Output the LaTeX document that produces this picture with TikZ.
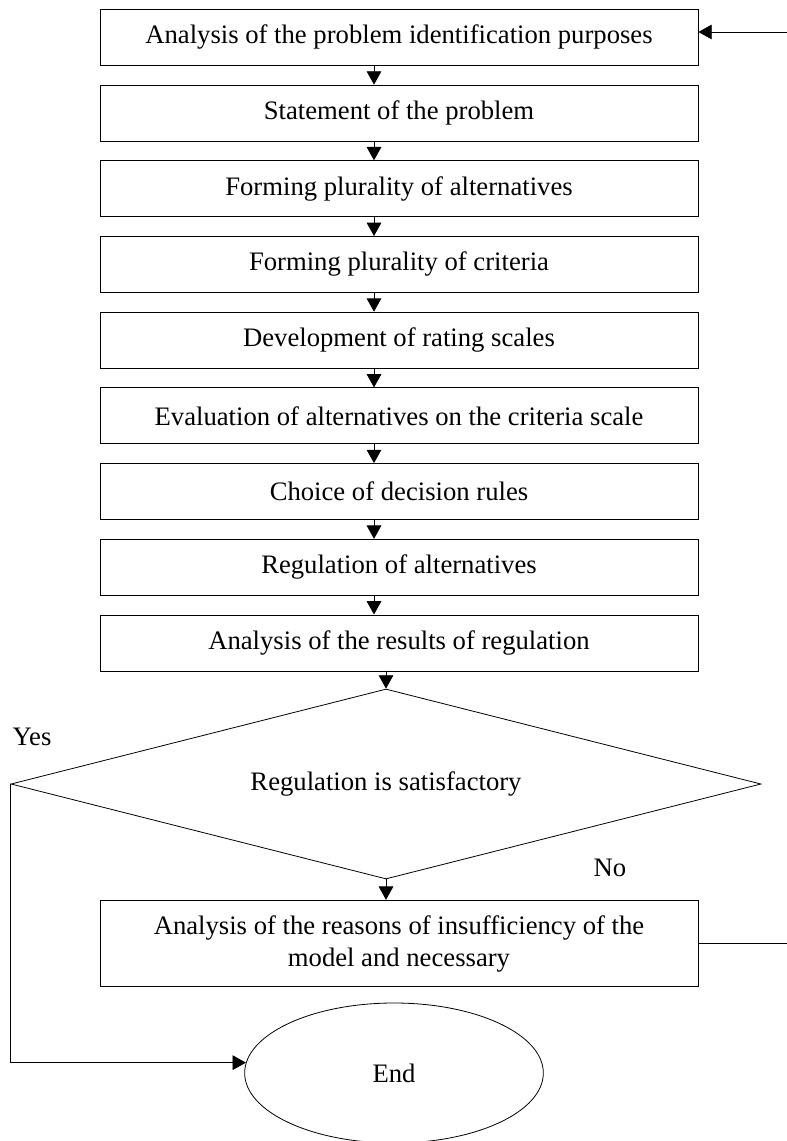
\documentclass[tikz,border=0pt]{standalone}
\usepackage{fontspec}
\setmainfont{Liberation Serif}
\usetikzlibrary{shapes.geometric}
\usetikzlibrary{arrows.meta}

\begin{document}
\begin{tikzpicture}[x=0.75pt, y=-0.75pt, line cap = round, line join = miter, >={Triangle[length=10pt,width=11pt]}]
\tikzstyle{stage}=[rectangle, draw=black, line width=0.6pt, minimum width=448.5pt, minimum height=42pt, inner sep=0pt, font=\fontsize{20}{24}\selectfont]
\tikzstyle{test}=[diamond, draw=black, line width=0.6pt, aspect=4, inner sep=0pt, minimum width=562.5pt, minimum height=142.5pt, font=\fontsize{20}{24}\selectfont]
\tikzstyle{term}=[ellipse, draw=black, line width=0.6pt, inner sep=0pt, minimum width=224pt, minimum height=105pt, font=\fontsize{20}{24}\selectfont]
\tikzstyle{flow}=[line width=0.6pt, ->]
\useasboundingbox (0,0) rectangle (787,1141);

\node[stage] (analysis) at (399, 37.3) {Analysis of the problem identification purposes};
\node[stage] (statement) at (399, 113) {Statement of the problem};
\node[stage] (alts) at (399, 188.7) {Forming plurality of alternatives};
\node[stage] (crit) at (399, 264.4) {Forming plurality of criteria};
\node[stage] (scales) at (399, 340.1) {Development of rating scales};
\node[stage] (evaluation) at (399, 415.8) {Evaluation of alternatives on the criteria scale};
\node[stage] (rules) at (399, 491.5) {Choice of decision rules};
\node[stage] (regulation) at (399, 567.2) {Regulation of alternatives};
\node[stage] (results) at (399, 642.9) {Analysis of the results of regulation};
\node[test] (satisf) at (386, 784) {Regulation is satisfactory};
\node[stage, minimum height=65pt, align=center] (reasons) at (399, 943.5) {Analysis of the reasons of insufficiency of the\\model and necessary};
\node[term] (finish) at (394, 1073) {End};

\node[font=\fontsize{20}{24}\selectfont] (yes) at (32, 737) {Yes};
\node[font=\fontsize{20}{24}\selectfont] (no) at (610, 868) {No};

\coordinate (backin) at (787, 32);
\coordinate (backout) at (787, 943.5);

% main chain
\draw[flow] ([xshift=-18.75pt]analysis.south) -- ([xshift=-18.75pt]statement.north);
\draw[flow] ([xshift=-18.75pt]statement.south) -- ([xshift=-18.75pt]alts.north);
\draw[flow] ([xshift=-18.75pt]alts.south) -- ([xshift=-18.75pt]crit.north);
\draw[flow] ([xshift=-18.75pt]crit.south) -- ([xshift=-18.75pt]scales.north);
\draw[flow] ([xshift=-18.75pt]scales.south) -- ([xshift=-18.75pt]evaluation.north);
\draw[flow] ([xshift=-18.75pt]evaluation.south) -- ([xshift=-18.75pt]rules.north);
\draw[flow] ([xshift=-18.75pt]rules.south) -- ([xshift=-18.75pt]regulation.north);
\draw[flow] ([xshift=-18.75pt]regulation.south) -- ([xshift=-18.75pt]results.north);
\draw[flow] (results.south -| satisf.north) -- (satisf.north);
\draw[flow] (satisf.south) -- (satisf.south |- reasons.north);

% yes branch and feedback
\draw[flow] (satisf.west) |- (finish.176);
\draw[line width=0.6pt] (reasons.east) -- (backout);
\draw[flow] (backin) -- (backin -| analysis.east);
\end{tikzpicture}
\end{document}
